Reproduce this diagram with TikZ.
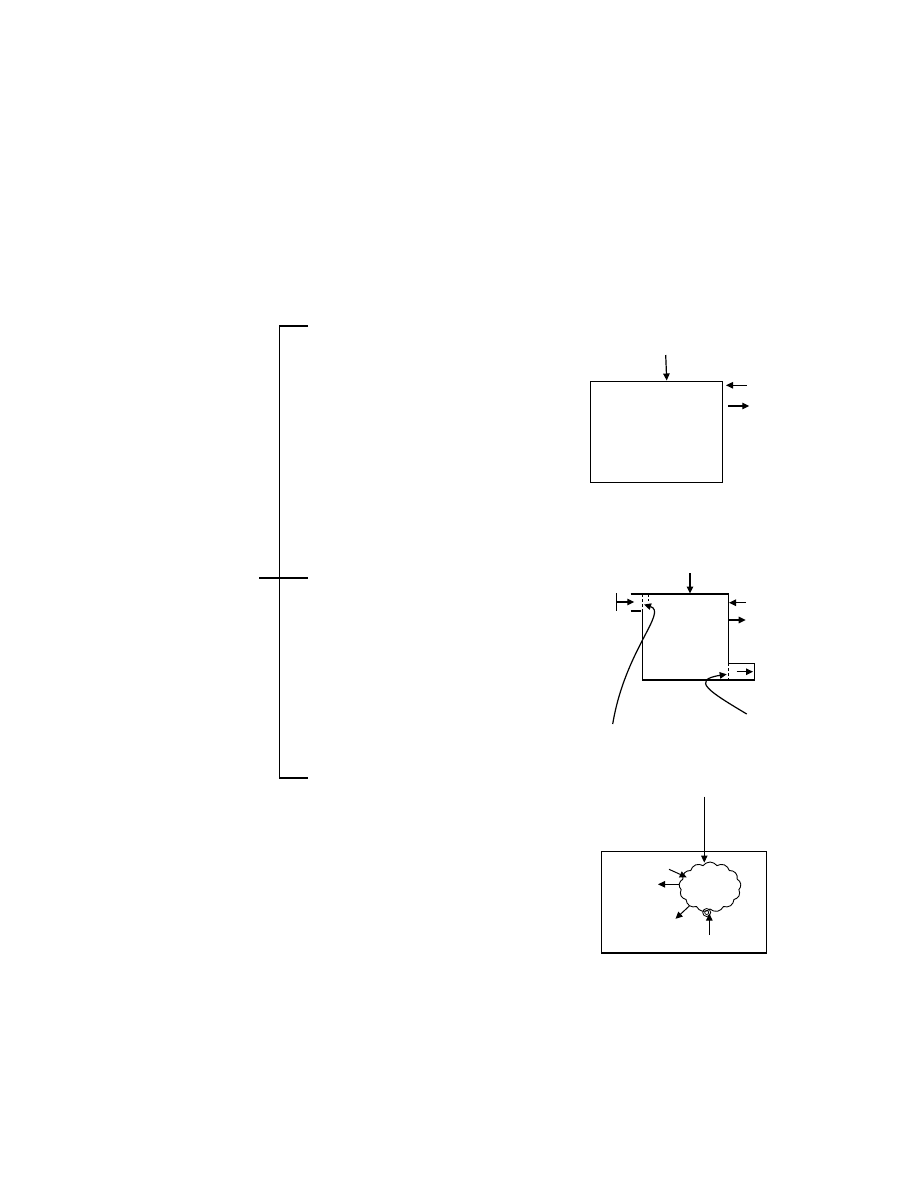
\documentclass[tikz,border=0pt]{standalone}
\usetikzlibrary{arrows.meta,shapes.symbols}
\tikzset{
  ln/.style={line width=1.2pt,black},
  arr/.style={ln,-{Triangle[length=7pt,width=6.5pt]}},
  boxnode/.style={draw,line width=1.2pt,inner sep=0pt,anchor=center},
}
\begin{document}
\begin{tikzpicture}[x=1pt,y=-1pt]
\useasboundingbox (0,0) rectangle (918,1188);
% bracket
\draw[ln] (308,326) -- (279.3,326) -- (279.3,778) -- (308,778);
\draw[ln] (259,578) -- (308,578);

% figure 1
\node[boxnode,minimum width=132pt,minimum height=101pt] (b1) at (656.7,431.8) {};
\coordinate (t1a) at (665.7,355);
\coordinate (t1b) at (666.7,380.5);
\draw[arr] (t1a) -- (t1b);
\coordinate (r1a) at (746.7,385.3);
\coordinate (r1b) at (726,385.3);
\draw[arr] (r1a) -- (r1b);
\coordinate (r2a) at (728.3,406);
\coordinate (r2b) at (749.3,406);
\draw[arr] (r2a) -- (r2b);

% figure 2
\coordinate (bl) at (642.3,611);
\coordinate (blb) at (642.3,680);
\coordinate (brb) at (728.3,680);
\coordinate (brt) at (728.3,594);
\coordinate (blt) at (630.7,594);
\draw[ln] (blt) -- (brt) -- (728.3,663.3);
\draw[ln] (bl) -- (blb) -- (brb);
\draw[ln,dashed,dash pattern=on 3pt off 2pt] (642.3,594) -- (bl);
\draw[ln,dashed,dash pattern=on 3pt off 2pt] (648.3,594) -- (648.3,601);
\draw[ln] (630.7,611) -- (641,611);
% small box at bottom right
\draw[ln] (728.3,663.3) -- (754.3,663.3) -- (754.3,680) -- (brb);
\draw[ln,dashed,dash pattern=on 3pt off 2pt] (728.3,663.3) -- (brb);
\coordinate (s1a) at (736.7,671.7);
\coordinate (s1b) at (753,671.7);
\draw[arr] (s1a) -- (s1b);
% top arrow
\coordinate (t2a) at (690,573.3);
\coordinate (t2b) at (690,593.5);
\draw[arr] (t2a) -- (t2b);
% right arrows
\coordinate (q1a) at (746,602.7);
\coordinate (q1b) at (729,602.7);
\draw[arr] (q1a) -- (q1b);
\coordinate (q2a) at (729,620);
\coordinate (q2b) at (745.7,620);
\draw[arr] (q2a) -- (q2b);
% left bracket and arrow
\draw[ln] (616.7,593.3) -- (616.7,611);
\coordinate (l1a) at (616.7,602);
\coordinate (l1b) at (634.3,602);
\draw[arr] (l1a) -- (l1b);
% curves
\coordinate (c1a) at (612.7,724);
\coordinate (c1b) at (644,604.5);
\draw[arr] (c1a) .. controls (625,650) and (668,612) .. (c1b);
\coordinate (c2a) at (746.7,714);
\coordinate (c2b) at (726.7,674.3);
\draw[arr] (c2a) .. controls (710,692) and (690,680) .. (c2b);

% figure 3
\node[boxnode,minimum width=165pt,minimum height=101pt] (b3) at (684.2,901.7) {};
\draw[line width=2.2pt] (b3.south west) -- (b3.south east);
\node[cloud,draw,line width=0.9pt,cloud puffs=13,cloud puff arc=110,aspect=1.2,minimum width=62pt,minimum height=50pt,inner sep=0pt] (cl) at (710,887) {};
\coordinate (v3a) at (704.3,796.7);
\coordinate (v3b) at (704.3,862.5);
\draw[arr,line width=1pt] (v3a) -- (v3b);
\coordinate (k1a) at (669,869.3);
\coordinate (k1b) at (686.7,877.3);
\draw[arr,line width=1pt] (k1a) -- (k1b);
\coordinate (k2a) at (679.3,884.3);
\coordinate (k2b) at (658,884.3);
\draw[arr,line width=1pt] (k2a) -- (k2b);
\coordinate (k3a) at (689.3,906);
\coordinate (k3b) at (675.5,918.8);
\draw[arr,line width=1pt] (k3a) -- (k3b);
\node[draw,circle,line width=0.8pt,minimum size=8pt,inner sep=0pt] (sp) at (706.7,912.5) {};
\draw[line width=0.7pt] (sp.center) circle (2pt);
\coordinate (k4a) at (709.3,935);
\coordinate (k4b) at (709.3,913.5);
\draw[arr,line width=1pt] (k4a) -- (k4b);
\end{tikzpicture}
\end{document}
